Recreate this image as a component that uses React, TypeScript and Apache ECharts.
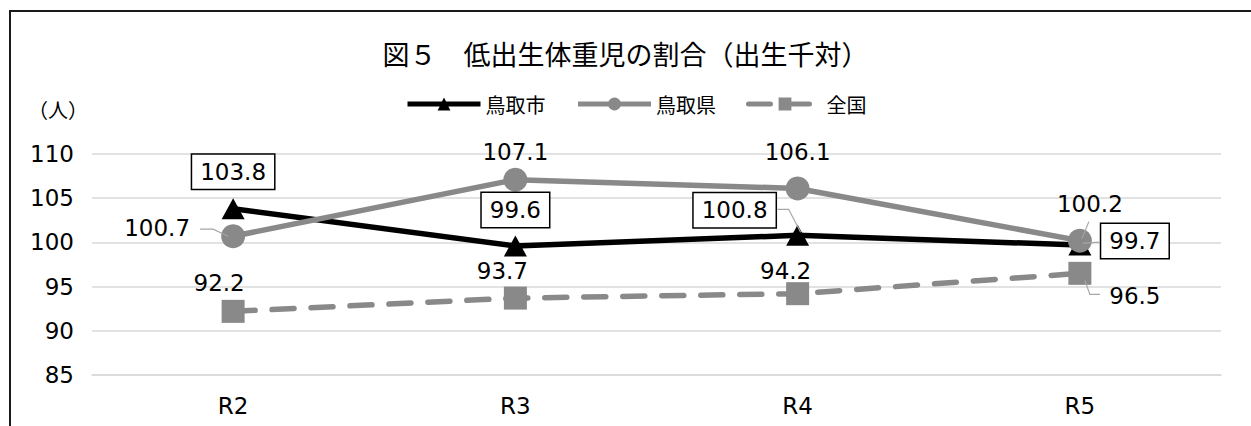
import { useEffect, useRef } from 'react';
import * as echarts from 'echarts';

const categories = ['R2', 'R3', 'R4', 'R5'];
const cityValues = [103.8, 99.6, 100.8, 99.7];
const prefValues = [100.7, 107.1, 106.1, 100.2];
const nationValues = [92.2, 93.7, 94.2, 96.5];
const yMin = 85;
const yMax = 110;
const yStep = 5;

const NUM_FONT = '"DejaVu Sans", sans-serif';
const JP_FONT = '"Noto Sans CJK JP", sans-serif';
const GRAY = '#898989';

// label centre relative to its point, in px
const cityOffsets = [[0, -37], [0, -36], [-63, -25], [55, -4]];
const prefOffsets = [[-76, -8], [0, -28], [0, -36], [10, -37]];
const nationOffsets = [[-14, -28], [-13, -27], [-12, -23], [55, 23]];

// leader lines, relative to their point
const leaders = [
  { series: 0, index: 2, pts: [[-20, -26], [-9, -26], [3, -3]] },
  { series: 0, index: 3, pts: [[3, -2], [20, -3]] },
  { series: 1, index: 0, pts: [[-33, -7], [-20, -7], [-5, 0]] },
  { series: 1, index: 3, pts: [[9, -19], [2, -2]] },
  { series: 2, index: 3, pts: [[5, 7], [10, 21], [20, 21]] },
];

const numLabel = {
  show: true,
  position: 'inside',
  fontFamily: NUM_FONT,
  fontSize: 23,
  color: '#000',
  formatter: (p: any) => Number(p.value).toFixed(1),
};

const boxedLabel = {
  ...numLabel,
  backgroundColor: '#fff',
  borderColor: '#000',
  borderWidth: 1.5,
  padding: [6, 8, 5, 8],
};

export default function App() {
  const ref = useRef<HTMLDivElement>(null);

  useEffect(() => {
    document.body.style.margin = '0';
    const chart = echarts.init(ref.current!, undefined, { renderer: 'svg' });
    const seriesValues = [cityValues, prefValues, nationValues];

    chart.setOption({
      animation: false,
      backgroundColor: '#fff',
      title: {
        text: '図５　低出生体重児の割合（出生千対）',
        left: 'center',
        top: 35,
        textStyle: { fontFamily: JP_FONT, fontSize: 27, fontWeight: 'normal', color: '#000' },
      },
      legend: {
        left: 405,
        top: 94,
        padding: 0,
        itemWidth: 73,
        itemHeight: 16,
        itemGap: 30,
        lineStyle: { width: 5 },
        data: ['鳥取市', '鳥取県', '全国'],
        textStyle: { fontFamily: JP_FONT, fontSize: 20, color: '#000' },
      },
      grid: { left: 92, right: 30, top: 154, bottom: 51 },
      xAxis: {
        type: 'category',
        data: categories,
        boundaryGap: true,
        axisLine: { lineStyle: { color: '#d9d9d9', width: 1.5 } },
        axisTick: { show: false },
        axisLabel: { fontFamily: NUM_FONT, fontSize: 23, color: '#000', margin: 19 },
      },
      yAxis: {
        type: 'value',
        min: yMin,
        max: yMax,
        interval: yStep,
        axisLine: { show: false },
        axisTick: { show: false },
        axisLabel: { fontFamily: NUM_FONT, fontSize: 23, color: '#000', margin: 18 },
        splitLine: { lineStyle: { color: '#d9d9d9', width: 1.5 } },
      },
      series: [
        {
          name: '鳥取市',
          type: 'line',
          symbol: 'triangle',
          symbolSize: [23, 21],
          color: '#000',
          lineStyle: { color: '#000', width: 5.5 },
          itemStyle: { color: '#000' },
          label: boxedLabel,
          data: cityValues.map((v, i) => ({ value: v, label: { offset: cityOffsets[i] } })),
        },
        {
          name: '鳥取県',
          type: 'line',
          symbol: 'circle',
          symbolSize: 24,
          color: GRAY,
          lineStyle: { color: GRAY, width: 5.5 },
          itemStyle: { color: GRAY },
          label: numLabel,
          data: prefValues.map((v, i) => ({ value: v, label: { offset: prefOffsets[i] } })),
        },
        {
          name: '全国',
          type: 'line',
          symbol: 'rect',
          symbolSize: 23,
          color: GRAY,
          lineStyle: { color: GRAY, width: 5.5, type: [22, 17], cap: 'round' },
          itemStyle: { color: GRAY },
          label: numLabel,
          data: nationValues.map((v, i) => ({ value: v, label: { offset: nationOffsets[i] } })),
        },
      ],
    });

    const leaderGraphics = leaders.map((l) => {
      const [px, py] = chart.convertToPixel({ seriesIndex: l.series }, [
        l.index,
        seriesValues[l.series][l.index],
      ]) as number[];
      return {
        type: 'polyline',
        z: 100,
        shape: { points: l.pts.map(([dx, dy]) => [px + dx, py + dy]) },
        style: { stroke: '#a6a6a6', lineWidth: 1.2, fill: 'none' },
      };
    });

    chart.setOption({
      graphic: [
        {
          type: 'rect',
          shape: { x: 10, y: 11, width: 1400, height: 600 },
          style: { fill: 'none', stroke: '#1a1a1a', lineWidth: 2 },
          silent: true,
        },
        {
          type: 'text',
          x: 28,
          y: 109,
          style: {
            text: '（人）',
            fontFamily: JP_FONT,
            fontSize: 20,
            fill: '#000',
            verticalAlign: 'middle',
          },
        },
        ...leaderGraphics,
      ],
    });

    return () => chart.dispose();
  }, []);

  return <div ref={ref} style={{ width: 1251, height: 426 }} />;
}
